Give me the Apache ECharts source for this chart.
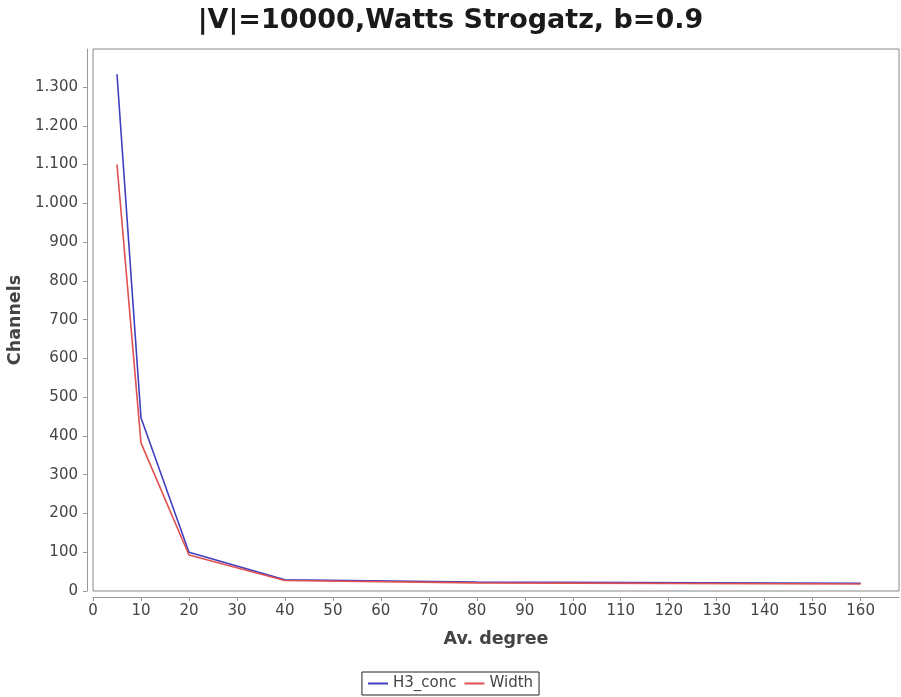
<!DOCTYPE html>
<html><head><meta charset="utf-8">
<script src="https://cdn.jsdelivr.net/npm/echarts@6/dist/echarts.min.js"></script>
<style>html,body{margin:0;padding:0;background:#fff}#c{width:901px;height:697px}</style>
</head><body><div id="c"></div>
<script>
const degrees = [5, 10, 20, 40, 80, 160];
const h3Conc = [1333, 447, 100, 29, 23, 20];
const width = [1100, 382, 93, 27, 21, 18];
const xTicks = [0,10,20,30,40,50,60,70,80,90,100,110,120,130,140,150,160];
const yTicks = [0,100,200,300,400,500,600,700,800,900,1000,1100,1200,1300];

const fmt = v => String(v).replace(/\B(?=(\d{3})+(?!\d))/g, '.');
const chart = echarts.init(document.getElementById('c'));
chart.setOption({
  animation: false,
  backgroundColor: '#fff',
  title: {
    text: '|V|=10000,Watts Strogatz, b=0.9',
    left: 'center', top: 2,
    textStyle: {fontFamily: 'DejaVu Sans', fontWeight: 'bold', fontSize: 27, color: '#1a1a1a'}
  },
  legend: {
    bottom: 2, left: 'center',
    data: ['H3_conc', 'Width'],
    icon: 'rect', itemWidth: 20, itemHeight: 2, itemGap: 8,
    borderColor: '#222', borderWidth: 1, padding: [4, 6, 4, 6],
    textStyle: {fontFamily: 'DejaVu Sans', fontSize: 15, color: '#444'}
  },
  grid: {left: 93, right: 2, top: 49, bottom: 106, show: true, borderColor: '#888', borderWidth: 1,
         containLabel: false, outerBoundsMode: 'none'},
  xAxis: {
    type: 'value', min: 0, max: 168, interval: 10,
    offset: 6,
    name: 'Av. degree', nameLocation: 'middle', nameGap: 33,
    nameTextStyle: {fontFamily: 'DejaVu Sans', fontWeight: 'bold', fontSize: 17.5, color: '#444'},
    axisLine: {show: true, onZero: false, lineStyle: {color: '#999'}},
    axisTick: {show: true, length: 4, lineStyle: {color: '#999'}, customValues: xTicks},
    axisLabel: {fontFamily: 'DejaVu Sans', fontSize: 15, color: '#444', margin: 7, customValues: xTicks},
    splitLine: {show: false}
  },
  yAxis: {
    type: 'value', min: 0, max: 1398, interval: 100,
    offset: 6,
    name: 'Channels', nameLocation: 'middle', nameGap: 63, nameRotate: 90,
    nameTextStyle: {fontFamily: 'DejaVu Sans', fontWeight: 'bold', fontSize: 17.5, color: '#444'},
    axisLine: {show: true, onZero: false, lineStyle: {color: '#999'}},
    axisTick: {show: true, length: 4, lineStyle: {color: '#999'}, customValues: yTicks},
    axisLabel: {fontFamily: 'DejaVu Sans', fontSize: 15, color: '#444', margin: 9, formatter: fmt, customValues: yTicks},
    splitLine: {show: false}
  },
  series: [
    {name: 'H3_conc', type: 'line', symbol: 'none', data: degrees.map((d, i) => [d, h3Conc[i]]),
     lineStyle: {color: '#3f3fc0', width: 1.6}, itemStyle: {color: '#3f3fc0'}},
    {name: 'Width', type: 'line', symbol: 'none', data: degrees.map((d, i) => [d, width[i]]),
     lineStyle: {color: '#e05050', width: 1.6}, itemStyle: {color: '#e05050'}}
  ]
});
</script></body></html>
